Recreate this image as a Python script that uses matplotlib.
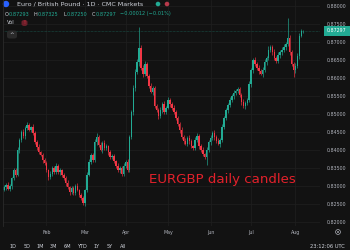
import matplotlib
matplotlib.use("Agg")
import matplotlib.pyplot as plt
from matplotlib.patches import Rectangle, FancyBboxPatch, Ellipse
import numpy as np

# daily closes (Jan -> early Aug)
closes = [
    0.8297, 0.8303, 0.8292, 0.8300, 0.8322, 0.8344, 0.8331, 0.8400, 0.8428, 0.8450,
    0.8439, 0.8461, 0.8469, 0.8456, 0.8464, 0.8447, 0.8422, 0.8408, 0.8394, 0.8386,
    0.8372, 0.8364, 0.8344, 0.8325, 0.8333, 0.8350, 0.8339, 0.8356, 0.8339, 0.8344,
    0.8331, 0.8322, 0.8308, 0.8297, 0.8283, 0.8294, 0.8281, 0.8300, 0.8289, 0.8275,
    0.8267, 0.8253, 0.8289, 0.8331, 0.8367, 0.8386, 0.8372, 0.8422, 0.8436, 0.8414,
    0.8400, 0.8419, 0.8406, 0.8411, 0.8394, 0.8381, 0.8383, 0.8369, 0.8356, 0.8344,
    0.8350, 0.8333, 0.8356, 0.8367, 0.8344, 0.8436, 0.8506, 0.8572, 0.8617, 0.8644,
    0.8683, 0.8628, 0.8611, 0.8639, 0.8606, 0.8578, 0.8561, 0.8572, 0.8522, 0.8511,
    0.8494, 0.8511, 0.8528, 0.8506, 0.8517, 0.8539, 0.8528, 0.8517, 0.8506, 0.8489,
    0.8472, 0.8456, 0.8436, 0.8425, 0.8417, 0.8433, 0.8425, 0.8411, 0.8406, 0.8428,
    0.8439, 0.8411, 0.8400, 0.8389, 0.8381, 0.8400, 0.8422, 0.8433, 0.8447, 0.8436,
    0.8425, 0.8417, 0.8428, 0.8464, 0.8489, 0.8511, 0.8525, 0.8539, 0.8550, 0.8558,
    0.8564, 0.8569, 0.8553, 0.8533, 0.8522, 0.8531, 0.8539, 0.8583, 0.8622, 0.8650,
    0.8639, 0.8628, 0.8619, 0.8611, 0.8622, 0.8644, 0.8656, 0.8678, 0.8686, 0.8672,
    0.8656, 0.8647, 0.8664, 0.8672, 0.8678, 0.8686, 0.8694, 0.8712, 0.8672, 0.8639,
    0.8622, 0.8633, 0.8661, 0.8718, 0.8731,
]
first_open = 0.8290

# wick lengths in pips (upper / lower)
up_wick = [6,4,8,5,3,7,5,9,4,6, 8,5,10,6,4,7,5,6,8,4, 5,7,6,4,9,5,6,8,5,7,
           4,6,5,8,4,7,6,5,8,4, 6,5,4,7,9,6,5,8,10,6, 7,5,8,6,4,7,5,6,4,8,
           6,5,7,6,8,5,6,9,7,8, 59,10,7,9,6,5,8,6,7,5, 6,8,5,7,6,9,5,6,7,4,
           6,5,8,6,7,5,9,6,4,8, 7,5,6,8,4,7,6,9,5,8, 6,7,5,8,6,7,5,9,6,8,
           5,7,6,4,8,6,5,9,7,6, 8,5,7,6,9,8,6,10,7,6, 8,5,7,6,9,8,6,55,8,7,
           6,9,8,7,6]
dn_wick = [5,7,4,6,8,5,6,4,7,5, 6,8,5,4,7,6,5,9,6,4, 7,5,6,8,5,4,7,6,5,8,
           6,4,7,5,8,6,5,7,4,6, 5,6,8,5,4,7,6,5,8,6, 4,7,5,6,8,5,7,4,6,5,
           8,6,5,7,4,6,5,8,7,6, 10,6,8,5,7,6,4,8,6,5, 7,6,9,5,6,4,8,6,5,7,
           6,8,5,7,4,6,8,5,7,6, 5,8,6,7,5,23,6,8,5,7, 6,4,8,5,7,6,9,5,6,8,
           5,7,6,8,4,9,6,5,7,8, 6,5,8,4,7,6,9,5,6,8, 7,5,6,9,8,6,7,5,8,6,
           19,7,6,8,5]

# last (current) bar from the header
last_o, last_h, last_l, last_c = 0.87293, 0.87325, 0.87250, 0.87297

month_pos = [22, 42, 63, 85, 107, 128, 151]
month_labels = ["Feb", "Mar", "Apr", "May", "Jun", "Jul", "Aug"]
price_ticks = [0.820, 0.825, 0.830, 0.835, 0.840, 0.845, 0.850,
               0.855, 0.860, 0.865, 0.870, 0.875, 0.880]
range_buttons = ["1D", "5D", "1M", "3M", "6M", "YTD", "1Y", "5Y", "All"]
range_x = [13, 27, 40, 53, 67, 82, 97, 110, 123]

BG = "#121212"
GREEN = "#22ab94"
RED = "#f23645"
GRID = "#1f1f1f"
TXT = "#b2b5be"

W, H = 350, 250


def px(x, y):
    return x / W, 1 - y / H


def dot(x, y, r, **kw):
    fig.patches.append(Ellipse(px(x, y), 2 * r / W, 2 * r / H,
                               transform=fig.transFigure, **kw))


opens = [first_open] + closes + []
opens = opens[:len(closes)] + [last_o]
cl = closes + [last_c]
highs = [max(o, c) + u * 1e-4 for o, c, u in zip(opens, cl, up_wick)] + [last_h]
lows = [min(o, c) - d * 1e-4 for o, c, d in zip(opens, cl, dn_wick)] + [last_l]

fig = plt.figure(figsize=(3.5, 2.5), dpi=100, facecolor=BG)
ax = fig.add_axes([3 / W, 24 / H, 317 / W, 226 / H])
ax.set_facecolor(BG)

idx = np.arange(len(cl))
colors = [GREEN if c >= o else RED for o, c in zip(opens, cl)]
ax.vlines(idx, lows, highs, colors=colors, linewidth=0.45, zorder=3)
bottoms = [min(o, c) for o, c in zip(opens, cl)]
heights = [max(abs(c - o), 0.00006) for o, c in zip(opens, cl)]
ax.bar(idx, heights, bottom=bottoms, width=0.75, color=colors, linewidth=0, zorder=4)

ax.set_xlim(-0.52, 163.7)
ax.set_ylim(0.81889, 0.88167)

ax.set_xticks(month_pos)
ax.set_xticklabels(month_labels)
ax.set_yticks(price_ticks)
ax.set_yticklabels([f"{p:.5f}" for p in price_ticks])
ax.yaxis.tick_right()
ax.tick_params(axis="both", length=0, colors=TXT, labelsize=3.4)
ax.tick_params(axis="y", pad=5.2)
ax.tick_params(axis="x", pad=3.2)
ax.grid(True, color=GRID, linewidth=0.5)
ax.set_axisbelow(True)
for s in ax.spines.values():
    s.set_visible(False)

# current price line and tag
ax.axhline(last_c, color=GREEN, linewidth=0.4, linestyle=(0, (1, 1.5)), alpha=0.7, zorder=2)
fig.patches.append(Rectangle(px(324, 36), 26 / W, 10 / H, transform=fig.transFigure,
                             facecolor=GREEN, edgecolor="none"))
fig.text(*px(337, 31), f"{last_c:.5f}", color="white", fontsize=3.4,
         ha="center", va="center")

# annotation
ax.text(75.2, 0.8319, "EURGBP daily candles", color="#e3212b", fontsize=9.6,
        ha="left", va="center", zorder=6)

# left border
fig.add_artist(plt.Line2D([3 / W, 3 / W], [24 / H, 1], color="#2a2a2a", linewidth=0.6))

# header
dot(6, 4, 3.2, facecolor="#2962ff", edgecolor="none")
fig.text(*px(17, 4.5), "Euro / British Pound · 1D · CMC Markets", color="#d1d4dc",
         fontsize=4.6, ha="left", va="center")
dot(158, 4, 2.3, facecolor=GREEN, edgecolor="none")
dot(167, 4, 2.3, facecolor="#b83a4b", edgecolor="none")

ohlc = [("O", f"{last_o:.5f}"), ("H", f"{last_h:.5f}"),
        ("L", f"{last_l:.5f}"), ("C", f"{last_c:.5f}")]
x0 = 5
for lab, val in ohlc:
    fig.text(*px(x0, 14), lab, color="#d1d4dc", fontsize=3.6, ha="left", va="center")
    fig.text(*px(x0 + 3.4, 14), val, color=GREEN, fontsize=3.6, ha="left", va="center")
    x0 += 29
fig.text(*px(x0 - 1, 14), "\u22120.00012 (\u22120.01%)", color=GREEN, fontsize=3.6,
         ha="left", va="center")

fig.text(*px(7, 23), "Vol", color="#d1d4dc", fontsize=3.7, ha="left", va="center")
fig.patches.append(FancyBboxPatch(px(21.5, 26), 6 / W, 6 / H, transform=fig.transFigure,
                                  boxstyle="round,pad=0,rounding_size=0.008",
                                  facecolor="#6b1f2a", edgecolor="none"))
fig.text(*px(24.5, 23), "!", color="#f23645", fontsize=3.5, ha="center", va="center")
fig.patches.append(FancyBboxPatch(px(7, 38.5), 10 / W, 8 / H, transform=fig.transFigure,
                                  boxstyle="round,pad=0,rounding_size=0.008",
                                  facecolor="#2a2a2a", edgecolor="none"))
fig.text(*px(12, 34.5), "^", color="#d1d4dc", fontsize=4.0, ha="center", va="center")

# bottom bar
for lab, x in zip(range_buttons, range_x):
    fig.text(*px(x, 247), lab, color="#d1d4dc", fontsize=3.6, ha="center", va="center")
fig.text(*px(327, 247), "23:12:06 UTC", color="#d1d4dc", fontsize=3.7,
         ha="center", va="center")
dot(338, 232, 2.4, facecolor="none", edgecolor=TXT, linewidth=0.5)
dot(338, 232, 0.9, facecolor=TXT, edgecolor="none")

fig.savefig("out.png", dpi=100, facecolor=BG)
